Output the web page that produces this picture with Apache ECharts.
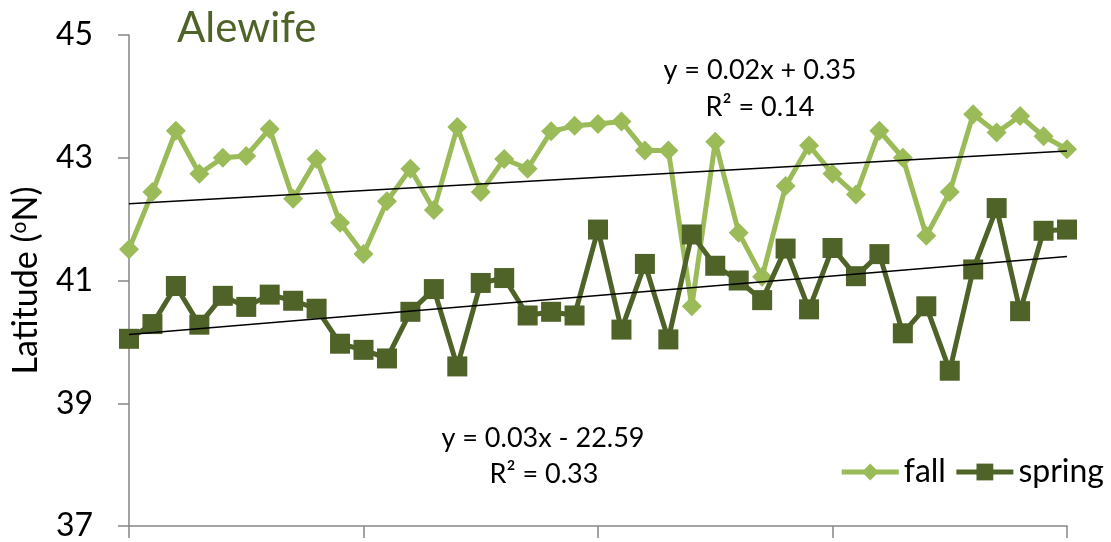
<!DOCTYPE html>
<html>
<head>
<meta charset="utf-8">
<script src="https://cdn.jsdelivr.net/npm/echarts@6/dist/echarts.min.js"></script>
<style>
  html, body { margin: 0; padding: 0; background: #ffffff; }
  #chart { width: 1111px; height: 542px; }
</style>
</head>
<body>
<div id="chart"></div>
<script>
// Survey years (one point per year)
const years = [];
for (let y = 1968; y <= 2008; y++) years.push(String(y));

// Mean latitude (°N) of alewife catch, fall survey
const fall = [
  41.51, 42.44, 43.44, 42.74, 43.00, 43.03, 43.47, 42.33, 42.98, 41.94,
  41.43, 42.29, 42.82, 42.15, 43.50, 42.44, 42.98, 42.82, 43.43, 43.52,
  43.55, 43.59, 43.12, 43.12, 40.58, 43.26, 41.78, 41.06, 42.54, 43.20,
  42.74, 42.40, 43.44, 43.00, 41.73, 42.44, 43.71, 43.41, 43.68, 43.35,
  43.14
];

// Mean latitude (°N) of alewife catch, spring survey
const spring = [
  40.05, 40.29, 40.91, 40.28, 40.75, 40.57, 40.77, 40.67, 40.54, 39.97,
  39.87, 39.73, 40.49, 40.86, 39.60, 40.96, 41.04, 40.43, 40.49, 40.43,
  41.83, 40.20, 41.27, 40.04, 41.75, 41.24, 41.00, 40.68, 41.52, 40.53,
  41.53, 41.07, 41.43, 40.14, 40.58, 39.53, 41.18, 42.18, 40.50, 41.81,
  41.83
];

// Linear trend lines: value at the first and last survey year
const fallTrend = [42.25, 43.11];
const springTrend = [40.12, 41.39];

const yTicks = [37, 39, 41, 43, 45];

// Trend-line labels
const fallEq = ['y = 0.02x + 0.35', 'R\u00b2 = 0.14'];
const springEq = ['y = 0.03x - 22.59', 'R\u00b2 = 0.33'];

const FONT = 'Lato, "Open Sans", sans-serif';
const LIGHT = '#9bbb59';
const DARK = '#4f6228';
const AXIS = '#868686';

const first = years[0];
const last = years[years.length - 1];

const chart = echarts.init(document.getElementById('chart'), null, { renderer: 'canvas' });

chart.setOption({
  animation: false,
  backgroundColor: '#ffffff',
  textStyle: { fontFamily: FONT },
  title: {
    text: 'Alewife',
    left: 172,
    top: 2,
    textStyle: { fontFamily: FONT, fontSize: 42, fontWeight: 'normal', color: DARK }
  },
  grid: { left: 129, right: 44, top: 35, bottom: 10, containLabel: false },
  legend: {
    data: ['fall', 'spring'],
    right: 2,
    top: 451,
    itemWidth: 57,
    itemHeight: 21,
    itemGap: 8,
    lineStyle: { width: 5 },
    textStyle: { fontFamily: FONT, fontSize: 32, color: '#000000' }
  },
  xAxis: {
    type: 'category',
    data: years,
    boundaryGap: false,
    axisLine: { show: true, lineStyle: { color: AXIS, width: 1.5 } },
    axisTick: { show: true, interval: 9, length: 12, lineStyle: { color: AXIS, width: 1.5 } },
    axisLabel: { show: false },
    splitLine: { show: false }
  },
  yAxis: {
    type: 'value',
    min: yTicks[0],
    max: yTicks[yTicks.length - 1],
    interval: 2,
    name: 'Latitude ({sup|o}N)',
    nameLocation: 'middle',
    nameRotate: 90,
    nameGap: 86,
    nameTextStyle: {
      fontFamily: FONT, fontSize: 34, color: '#000000',
      rich: { sup: { fontFamily: FONT, fontSize: 21, color: '#000000', verticalAlign: 'top', padding: [0, 0, 12, 0] } }
    },
    axisLine: { show: true, lineStyle: { color: AXIS, width: 1.5 } },
    axisTick: { show: true, length: 11, lineStyle: { color: AXIS, width: 1.5 } },
    axisLabel: { fontFamily: FONT, fontSize: 32, color: '#000000', margin: 36 },
    splitLine: { show: false }
  },
  series: [
    {
      name: 'fall',
      type: 'line',
      data: fall,
      symbol: 'diamond',
      symbolSize: 20,
      showSymbol: true,
      showAllSymbol: true,
      lineStyle: { color: LIGHT, width: 5 },
      itemStyle: { color: LIGHT },
      z: 2
    },
    {
      name: 'spring',
      type: 'line',
      data: spring,
      symbol: 'rect',
      symbolSize: 20,
      showSymbol: true,
      showAllSymbol: true,
      lineStyle: { color: DARK, width: 5 },
      itemStyle: { color: DARK },
      z: 3
    },
    {
      name: 'fall trend',
      type: 'line',
      data: [[first, fallTrend[0]], [last, fallTrend[1]]],
      symbol: 'none',
      lineStyle: { color: '#000000', width: 1.5 },
      silent: true,
      z: 5
    },
    {
      name: 'spring trend',
      type: 'line',
      data: [[first, springTrend[0]], [last, springTrend[1]]],
      symbol: 'none',
      lineStyle: { color: '#000000', width: 1.5 },
      silent: true,
      z: 5
    }
  ],
  graphic: [
    { type: 'text', x: 760, y: 70, style: { text: fallEq[0], font: '27px ' + FONT, fill: '#000', textAlign: 'center', textVerticalAlign: 'middle' } },
    { type: 'text', x: 760, y: 107, style: { text: fallEq[1], font: '27px ' + FONT, fill: '#000', textAlign: 'center', textVerticalAlign: 'middle' } },
    { type: 'text', x: 543, y: 438, style: { text: springEq[0], font: '27px ' + FONT, fill: '#000', textAlign: 'center', textVerticalAlign: 'middle' } },
    { type: 'text', x: 544, y: 474, style: { text: springEq[1], font: '27px ' + FONT, fill: '#000', textAlign: 'center', textVerticalAlign: 'middle' } }
  ]
});
</script>
</body>
</html>
